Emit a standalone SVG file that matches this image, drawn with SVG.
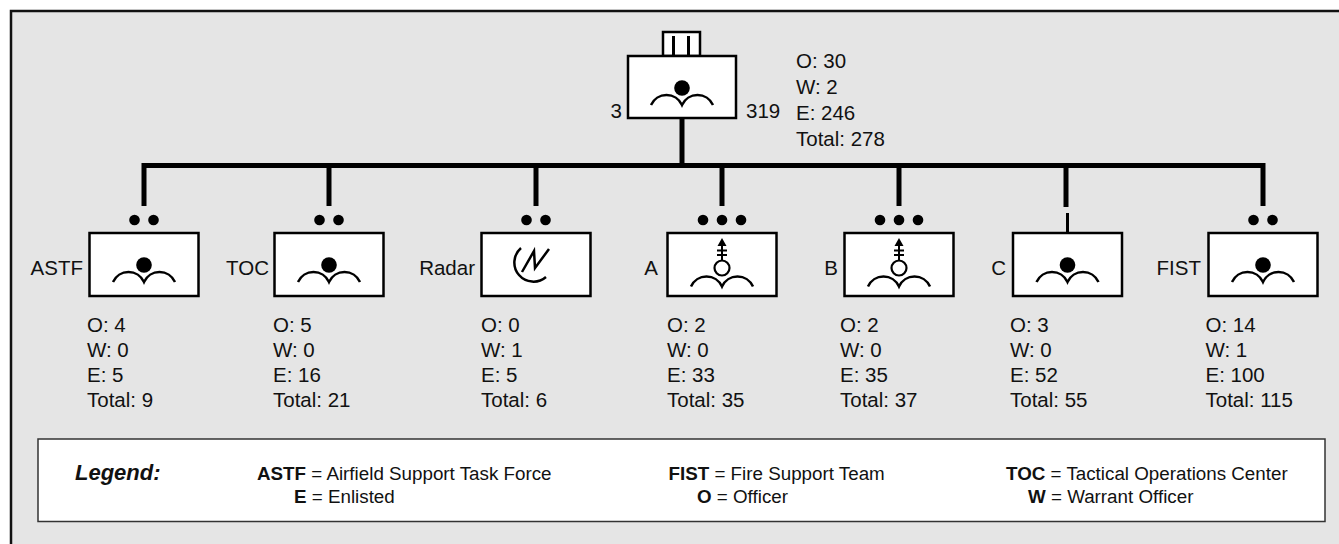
<svg xmlns="http://www.w3.org/2000/svg" width="1339" height="544" viewBox="0 0 1339 544">
<style>
text{font-family:"Liberation Sans",Arial,sans-serif;fill:#111}
.t{font-size:20.5px}
.lg{font-size:18.8px}
.b{font-weight:bold}
.box{fill:#fff;stroke:#000;stroke-width:2.5}
.ic{fill:none;stroke:#000;stroke-width:2.5}
.dot{fill:#000}
.con{fill:none;stroke:#000;stroke-width:5}
</style>
<defs>
<g id="inf">
<circle cx="0" cy="32" r="7.8" fill="#000"/>
<path class="ic" d="M-31,49 A17,17 0 0 1 0,49 A17,17 0 0 1 31,49"/>
</g>
<g id="avn">
<path d="M0,5 L4.5,13 L-4.5,13 Z" fill="#000"/>
<path d="M0,13 V28 M-5,17.5 H5 M-5,22 H5" stroke="#000" stroke-width="2" fill="none"/>
<circle cx="0" cy="35" r="7.5" fill="#fff" stroke="#000" stroke-width="2.2"/>
<path class="ic" d="M-31,53.5 A17,17 0 0 1 0,53.5 A17,17 0 0 1 31,53.5"/>
</g>
<g id="radar">
<path class="ic" d="M-15,15 A19,19 0 0 0 10,44" stroke-width="2.2"/>
<path class="ic" d="M-14,39 L-2,18 L-1,35 L13,16" stroke-width="2.2"/>
</g>
</defs>

<rect x="11" y="11" width="1400" height="600" fill="#e5e5e5" stroke="#111" stroke-width="2.5"/>

<g id="connectors">
<path class="con" d="M144,206 V165.5 H1263 V206"/>
<path class="con" d="M682,118 V165.5"/>
<path class="con" d="M329,165.5 V206"/>
<path class="con" d="M536,165.5 V206"/>
<path class="con" d="M722,165.5 V206"/>
<path class="con" d="M899,165.5 V206"/>
<path class="con" d="M1066,165.5 V207"/>
</g>

<g id="hq">
<rect class="box" x="663" y="32" width="37" height="24"/>
<path d="M673.5,36 V56 M688.5,36 V56" stroke="#000" stroke-width="3"/>
<rect class="box" x="628" y="56" width="108" height="62"/>
<use href="#inf" x="682" y="56"/>
<text class="t" x="622" y="118" text-anchor="end">3</text>
<text class="t" x="746" y="118">319</text>
<text class="t" x="796" y="68">O: 30</text>
<text class="t" x="796" y="94">W: 2</text>
<text class="t" x="796" y="120">E: 246</text>
<text class="t" x="796" y="146">Total: 278</text>
</g>

<g id="astf">
<circle class="dot" cx="134.5" cy="220" r="5.3"/><circle class="dot" cx="153.5" cy="220" r="5.3"/>
<rect class="box" x="89.5" y="233" width="109" height="63"/>
<use href="#inf" x="144" y="233"/>
<text class="t" x="83" y="275" text-anchor="end">ASTF</text>
<text class="t" x="87" y="332">O: 4</text>
<text class="t" x="87" y="357">W: 0</text>
<text class="t" x="87" y="382">E: 5</text>
<text class="t" x="87" y="407">Total: 9</text>
</g>

<g id="toc">
<circle class="dot" cx="319.5" cy="220" r="5.3"/><circle class="dot" cx="338.5" cy="220" r="5.3"/>
<rect class="box" x="274.5" y="233" width="109" height="63"/>
<use href="#inf" x="329" y="233"/>
<text class="t" x="269" y="275" text-anchor="end">TOC</text>
<text class="t" x="273" y="332">O: 5</text>
<text class="t" x="273" y="357">W: 0</text>
<text class="t" x="273" y="382">E: 16</text>
<text class="t" x="273" y="407">Total: 21</text>
</g>

<g id="radar-node">
<circle class="dot" cx="526.5" cy="220" r="5.3"/><circle class="dot" cx="545.5" cy="220" r="5.3"/>
<rect class="box" x="481.5" y="233" width="109" height="63"/>
<use href="#radar" x="536" y="233"/>
<text class="t" x="475" y="275" text-anchor="end">Radar</text>
<text class="t" x="481" y="332">O: 0</text>
<text class="t" x="481" y="357">W: 1</text>
<text class="t" x="481" y="382">E: 5</text>
<text class="t" x="481" y="407">Total: 6</text>
</g>

<g id="co-a">
<circle class="dot" cx="703" cy="220" r="5.3"/><circle class="dot" cx="722" cy="220" r="5.3"/><circle class="dot" cx="741" cy="220" r="5.3"/>
<rect class="box" x="667.5" y="233" width="109" height="63"/>
<use href="#avn" x="722" y="233"/>
<text class="t" x="658" y="275" text-anchor="end">A</text>
<text class="t" x="667" y="332">O: 2</text>
<text class="t" x="667" y="357">W: 0</text>
<text class="t" x="667" y="382">E: 33</text>
<text class="t" x="667" y="407">Total: 35</text>
</g>

<g id="co-b">
<circle class="dot" cx="880" cy="220" r="5.3"/><circle class="dot" cx="899" cy="220" r="5.3"/><circle class="dot" cx="918" cy="220" r="5.3"/>
<rect class="box" x="844.5" y="233" width="109" height="63"/>
<use href="#avn" x="899" y="233"/>
<text class="t" x="838" y="275" text-anchor="end">B</text>
<text class="t" x="840" y="332">O: 2</text>
<text class="t" x="840" y="357">W: 0</text>
<text class="t" x="840" y="382">E: 35</text>
<text class="t" x="840" y="407">Total: 37</text>
</g>

<g id="co-c">
<path d="M1067.5,213 V233" stroke="#000" stroke-width="3"/>
<rect class="box" x="1013" y="233" width="109" height="63"/>
<use href="#inf" x="1067.5" y="233"/>
<text class="t" x="1006" y="275" text-anchor="end">C</text>
<text class="t" x="1010" y="332">O: 3</text>
<text class="t" x="1010" y="357">W: 0</text>
<text class="t" x="1010" y="382">E: 52</text>
<text class="t" x="1010" y="407">Total: 55</text>
</g>

<g id="fist">
<circle class="dot" cx="1253.5" cy="220" r="5.3"/><circle class="dot" cx="1272.5" cy="220" r="5.3"/>
<rect class="box" x="1208.5" y="233" width="109" height="63"/>
<use href="#inf" x="1263" y="233"/>
<text class="t" x="1201" y="275" text-anchor="end">FIST</text>
<text class="t" x="1205.5" y="332">O: 14</text>
<text class="t" x="1205.5" y="357">W: 1</text>
<text class="t" x="1205.5" y="382">E: 100</text>
<text class="t" x="1205.5" y="407">Total: 115</text>
</g>

<g id="legend">
<rect x="38" y="439" width="1287" height="82.5" fill="#fff" stroke="#333" stroke-width="1.5"/>
<text x="75" y="480" style="font-size:22px;font-weight:bold;font-style:italic">Legend:</text>
<text class="lg" x="257" y="480"><tspan class="b">ASTF</tspan> = Airfield Support Task Force</text>
<text class="lg" x="294" y="503"><tspan class="b">E</tspan> = Enlisted</text>
<text class="lg" x="668.5" y="480"><tspan class="b">FIST</tspan> = Fire Support Team</text>
<text class="lg" x="697" y="503"><tspan class="b">O</tspan> = Officer</text>
<text class="lg" x="1006" y="480"><tspan class="b">TOC</tspan> = Tactical Operations Center</text>
<text class="lg" x="1028" y="503"><tspan class="b">W</tspan> = Warrant Officer</text>
</g>
</svg>
